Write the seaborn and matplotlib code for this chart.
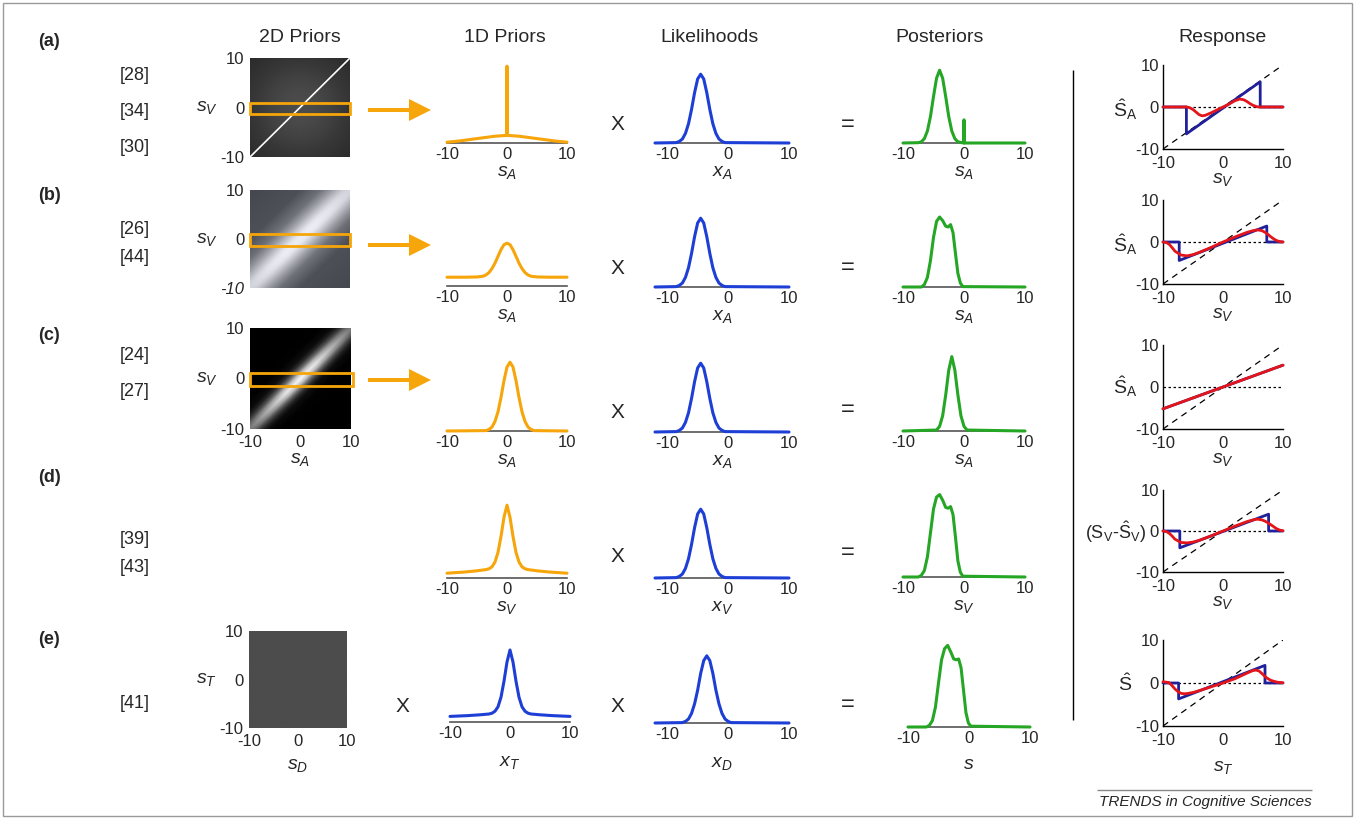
import numpy as np
import matplotlib
matplotlib.use('Agg')
import matplotlib.pyplot as plt
from matplotlib.patches import Rectangle, FancyArrow
from matplotlib.colors import LinearSegmentedColormap
import seaborn as sns

# ---------------- values ----------------
col_titles = ['2D Priors', '1D Priors', 'Likelihoods', 'Posteriors', 'Response']
row_tags = ['(a)', '(b)', '(c)', '(d)', '(e)']
citations = [['[28]', '[34]', '[30]'], ['[26]', '[44]'], ['[24]', '[27]'],
             ['[39]', '[43]'], ['[41]']]

# 1D priors (heights relative to the panel baseline)
prior_a_x = [-10, -8, -6, -4, -2, -1, -0.05, 0, 0.05, 1, 2, 4, 6, 8, 10]
prior_a_y = [0.01, 0.025, 0.045, 0.065, 0.085, 0.09, 0.095, 0.96, 0.095, 0.09, 0.085, 0.065, 0.045, 0.025, 0.01]
prior_b_x = [-10, -7, -5, -4, -3.5, -3, -2.5, -2, -1.5, -1, -0.5, 0, 0.5, 1, 1.5, 2, 2.5, 3, 3.5, 4, 5, 7, 10]
prior_b_y = [0.11, 0.11, 0.113, 0.122, 0.138, 0.168, 0.218, 0.286, 0.371, 0.454, 0.517, 0.535, 0.517, 0.454,
             0.371, 0.286, 0.218, 0.168, 0.138, 0.122, 0.113, 0.11, 0.11]
prior_c_x = [-10, -3.5, -3, -2.5, -2, -1.5, -1, -0.5, 0, 0.5, 1, 1.5, 2, 2.5, 3, 3.5, 4, 4.5, 10]
prior_c_y = [0, 0.005, 0.02, 0.05, 0.12, 0.24, 0.42, 0.63, 0.8, 0.86, 0.8, 0.63, 0.42, 0.24, 0.12, 0.05, 0.02, 0.005, 0]
prior_d_x = [-10, -7, -5, -3.5, -3, -2.5, -2, -1.5, -1, -0.5, 0, 0.5, 1, 1.5, 2, 2.5, 3, 3.5, 5, 7, 10]
prior_d_y = [0.06, 0.075, 0.09, 0.105, 0.115, 0.14, 0.2, 0.32, 0.52, 0.76, 0.91, 0.76, 0.52, 0.32, 0.2, 0.14,
             0.115, 0.105, 0.09, 0.075, 0.06]
prior_e_x = prior_d_x
prior_e_y = [0.07, 0.08, 0.09, 0.1, 0.11, 0.135, 0.19, 0.31, 0.51, 0.75, 0.9, 0.75, 0.51, 0.31, 0.19, 0.135,
             0.11, 0.1, 0.09, 0.08, 0.07]

# likelihoods
like_x = [-12, -8.5, -8, -7.5, -7, -6.5, -6, -5.5, -5, -4.5, -4, -3.5, -3, -2.5, -2, -1.5, -1, -0.5, 10]
like_y = [0, 0.005, 0.02, 0.05, 0.12, 0.24, 0.42, 0.63, 0.8, 0.86, 0.8, 0.63, 0.42, 0.24, 0.12, 0.05, 0.02, 0.005, 0]
like_e_x = [-12, -7.5, -7, -6.5, -6, -5.5, -5, -4.5, -4, -3.5, -3, -2.5, -2, -1.5, -1, -0.5, 0, 0.5, 10]
like_e_y = [0, 0.005, 0.02, 0.05, 0.12, 0.24, 0.41, 0.62, 0.78, 0.84, 0.78, 0.62, 0.41, 0.24, 0.12, 0.05, 0.02, 0.005, 0]

# posteriors
post_a_x = [-10, -7.5, -7, -6.5, -6, -5.5, -5, -4.5, -4, -3.5, -3, -2.5, -2, -1.5, -1, -0.05, 0, 0.05, 10]
post_a_y = [0, 0.004, 0.015, 0.054, 0.15, 0.33, 0.58, 0.81, 0.91, 0.81, 0.58, 0.33, 0.15, 0.054, 0.015, 0, 0.29, 0, 0]
post_b_x = [-10, -7, -6.5, -6, -5.5, -5, -4.5, -4, -3.5, -3, -2.6, -2.2, -1.8, -1.4, -1, -0.6, -0.2, 10]
post_b_y = [0, 0, 0.03, 0.12, 0.33, 0.62, 0.82, 0.875, 0.83, 0.76, 0.75, 0.78, 0.68, 0.42, 0.17, 0.05, 0.005, 0]
post_c_x = [-10, -4.5, -4, -3.5, -3, -2.5, -2, -1.5, -1, -0.5, 0, 0.5, 10]
post_c_y = [0, 0.012, 0.058, 0.19, 0.45, 0.76, 0.93, 0.76, 0.45, 0.19, 0.058, 0.012, 0]
post_d_x = [-10, -7.5, -7, -6.5, -6, -5.5, -5, -4.5, -4, -3.5, -3, -2.6, -2.2, -1.8, -1.4, -1, -0.6, -0.2, 10]
post_d_y = [0, 0, 0.02, 0.08, 0.25, 0.55, 0.85, 1.0, 1.03, 0.96, 0.87, 0.86, 0.88, 0.78, 0.5, 0.2, 0.06, 0.01, 0]
post_e_x = [-10, -7, -6.5, -6, -5.5, -5, -4.5, -4, -3.5, -3, -2.5, -2.1, -1.7, -1.3, -0.9, -0.5, -0.1, 0.3, 10]
post_e_y = [0, 0, 0.02, 0.08, 0.25, 0.55, 0.84, 0.98, 1.02, 0.94, 0.85, 0.84, 0.85, 0.74, 0.46, 0.18, 0.05, 0.01, 0]

# responses
resp_a_blue_x = [-10, -6.1, -6.1, 6.2, 6.2, 10]
resp_a_blue_y = [0, 0, -6.4, 6.0, 0, 0]
resp_a_red_x = [-10, -6, -5.5, -5, -4.5, -4, -3.5, -3, -2, -1, 0, 1, 2, 2.8, 3.5, 4, 4.5, 5, 5.7, 6, 10]
resp_a_red_y = [0, 0, -0.2, -0.6, -1.2, -1.8, -2.1, -2.0, -1.4, -0.7, 0, 0.7, 1.5, 1.9, 1.7, 1.3, 0.8, 0.4, 0.05, 0, 0]
resp_b_blue_x = [-10, -7.3, -7.3, 7.3, 7.3, 10]
resp_b_blue_y = [0, 0, -4.4, 3.8, 0, 0]
resp_b_red_x = [-10, -9.5, -9, -8.5, -8, -7, -6, -5, -4, -2, 0, 2, 4, 5, 5.7, 6.5, 7, 7.5, 8, 8.5, 9, 9.5, 10]
resp_b_red_y = [0, -0.1, -0.5, -1.3, -2.2, -3.1, -3.3, -3.0, -2.5, -1.3, 0, 1.2, 2.3, 2.7, 2.9, 2.7, 2.3, 1.8,
                1.2, 0.7, 0.3, 0.1, 0]
resp_c_x = [-10, 10]
resp_c_y = [-5.2, 5.2]
resp_d_blue_x = [-10, -7.2, -7.2, 7.6, 7.6, 10]
resp_d_blue_y = [0, 0, -4.1, 4.1, 0, 0]
resp_d_red_x = [-10, -9.5, -9, -8.5, -8, -7, -6, -5, -4, -2, 0, 2, 4, 5, 5.7, 6.5, 7, 7.5, 8, 8.5, 9, 9.5, 10]
resp_d_red_y = [0, -0.1, -0.5, -1.2, -2.0, -2.8, -2.9, -2.7, -2.3, -1.2, 0, 1.2, 2.3, 2.7, 2.9, 2.7, 2.4, 2.0,
                1.5, 1.0, 0.5, 0.2, 0.05]
resp_e_blue_x = [-10, -7.4, -7.4, 7.0, 7.0, 10]
resp_e_blue_y = [0, 0, -3.7, 4.1, 0, 0]
resp_e_red_x = [-10, -9, -8.5, -8, -7.5, -7, -6.5, -6, -5, -4, -2, 0, 2, 4, 5, 5.5, 6, 6.5, 7, 7.5, 8, 9, 10]
resp_e_red_y = [0.3, 0.1, -0.6, -1.4, -2.0, -2.4, -2.5, -2.45, -2.2, -1.8, -0.9, 0, 1.0, 2.3, 2.9, 3.0, 2.8,
                2.2, 1.5, 1.0, 0.6, 0.2, 0.05]

# 2D priors: brightness profiles across (s_V - s_A) and along the diagonal
band_d = [-20, -10, -6, -4, -3, -2, -1, 0, 1, 2, 3, 4, 6, 10, 20]
band_b = [0.0, 0.05, 0.25, 0.5, 0.65, 0.8, 0.93, 0.97, 0.93, 0.8, 0.65, 0.5, 0.25, 0.05, 0.0]
band_c = [0.0, 0.0, 0.01, 0.06, 0.18, 0.42, 0.78, 0.97, 0.78, 0.42, 0.18, 0.06, 0.01, 0.0, 0.0]
along_u = [-10, -6, -3, 0, 3, 6, 10]
along_b = [0.85, 0.95, 1.0, 1.0, 1.0, 0.95, 0.85]
along_c = [0.5, 0.75, 0.93, 1.0, 0.93, 0.75, 0.5]
glow_r = [0, 3, 6, 9, 12, 15]
glow_a = [0.3, 0.29, 0.26, 0.22, 0.19, 0.16]
prior2d_e_level = 0.3

# ---------------- style ----------------
sns.set_theme(style='white')
plt.rcParams['font.family'] = ['Liberation Sans', 'DejaVu Sans']
plt.rcParams['mathtext.fontset'] = 'custom'
plt.rcParams['mathtext.rm'] = 'Liberation Sans'
plt.rcParams['mathtext.it'] = 'Liberation Sans:italic'
plt.rcParams['mathtext.bf'] = 'Liberation Sans:bold'
plt.rcParams['axes.unicode_minus'] = False

ORANGE = '#f6a50a'
BLUE = '#1d3fd6'
GREEN = '#25a625'
NAVY = '#20209a'
RED = '#e3151a'
TICK_FS = 12

W, H = 1355, 819
fig = plt.figure(figsize=(W / 100, H / 100), dpi=100)
fig.patch.set_facecolor('white')


def px_axes(left, top, width, height):
    return fig.add_axes([left / W, 1 - (top + height) / H, width / W, height / H])


canvas = px_axes(0, 0, W, H)
canvas.set_xlim(0, W)
canvas.set_ylim(H, 0)
canvas.axis('off')
canvas.add_patch(Rectangle((3, 3), W - 6, H - 6, fill=False, ec='#9a9a9a', lw=1))


def draw_line(ax, xs, ys, color, lw=2.2):
    sns.lineplot(x=xs, y=ys, ax=ax, color=color, lw=lw, estimator=None, sort=False)
    ax.lines[-1].set_clip_on(False)
    ax.lines[-1].set_zorder(3)


def curve_panel(left, width, base, xlim, xs, ys, color, xlabel, labelpad=1, height=88):
    ax = px_axes(left, base - height, width, height)
    ax.patch.set_alpha(0)
    draw_line(ax, xs, ys, color)
    ax.set_xlim(xlim)
    ax.set_ylim(0, 1.1)
    for s in ['top', 'right', 'left']:
        ax.spines[s].set_visible(False)
    ax.spines['bottom'].set_color('#555555')
    ax.spines['bottom'].set_linewidth(1.2)
    ax.set_xticks([-10, 0, 10])
    ax.set_xticklabels(['-10', '0', '10'])
    ax.set_yticks([])
    ax.tick_params(axis='x', direction='in', length=2, color='#555555', labelsize=TICK_FS, pad=3)
    ax.set_xlabel(xlabel, fontsize=14, labelpad=labelpad)
    return ax


def response_panel(top, bottom, bx, by, rx, ry, xlabel, labelpad=0):
    ax = px_axes(1163, top, 120, bottom - top)
    ax.patch.set_alpha(0)
    ax.axline((0, 0), slope=1, color='black', lw=0.9, ls=(0, (5, 4)))
    ax.axhline(0, color='black', lw=0.9, ls=(0, (2, 2)))
    draw_line(ax, bx, by, NAVY, lw=2.0)
    draw_line(ax, rx, ry, RED, lw=2.0)
    ax.set_xlim(-10, 10)
    ax.set_ylim(-10, 10)
    for s in ['top', 'right']:
        ax.spines[s].set_visible(False)
    for s in ['left', 'bottom']:
        ax.spines[s].set_color('black')
        ax.spines[s].set_linewidth(1)
    ax.set_xticks([-10, 0, 10])
    ax.set_yticks([-10, 0, 10])
    ax.set_xticklabels(['-10', '0', '10'])
    ax.set_yticklabels(['-10', '0', '10'])
    ax.tick_params(direction='in', length=3, color='black', labelsize=TICK_FS)
    ax.tick_params(axis='x', pad=5)
    ax.tick_params(axis='y', pad=3)
    ax.set_xlabel(xlabel, fontsize=14, labelpad=labelpad)
    return ax


# ---------------- 2D prior images ----------------
grid = np.linspace(-10, 10, 201)
SA, SV = np.meshgrid(grid, grid)
diag_off = SV - SA
diag_pos = (SA + SV) / 2
img_a = np.interp(np.hypot(SA, SV), glow_r, glow_a)
img_b = np.interp(diag_off, band_d, band_b) * np.interp(diag_pos, along_u, along_b)
img_c = np.interp(diag_off, band_d, band_c) * np.interp(diag_pos, along_u, along_c)
img_e = np.full_like(SA, prior2d_e_level)

cmap_b = LinearSegmentedColormap.from_list('bgrey', ['#45484e', '#f2f2fa'])


def image_panel(left, top, width, height, img, cmap, ylabel, xlabel=None, italic_low=False):
    ax = px_axes(left, top, width, height)
    ax.imshow(img, extent=[-10, 10, -10, 10], origin='lower', cmap=cmap, vmin=0, vmax=1,
              aspect='auto', interpolation='bilinear')
    ax.set_xlim(-10, 10)
    ax.set_ylim(-10, 10)
    for s in ax.spines.values():
        s.set_visible(False)
    ax.set_yticks([-10, 0, 10])
    ax.set_yticklabels(['-10', '0', '10'])
    if italic_low:
        ax.get_yticklabels()[0].set_style('italic')
    if xlabel:
        ax.set_xticks([-10, 0, 10])
        ax.set_xticklabels(['-10', '0', '10'])
        ax.set_xlabel(xlabel, fontsize=14, labelpad=1)
    else:
        ax.set_xticks([])
    ax.tick_params(length=0, labelsize=TICK_FS, pad=4)
    ax.set_ylabel(ylabel, fontsize=14, rotation=0, labelpad=2, va='center', ha='right')
    return ax


ax_a = image_panel(250, 58, 100, 99, img_a, 'gray', r'$s_V$')
ax_a.axline((0, 0), slope=1, color='white', lw=1.2)
ax_b = image_panel(250, 190, 100, 98, img_b, cmap_b, r'$s_V$', italic_low=True)
ax_c = image_panel(250, 328, 101, 101, img_c, 'gray', r'$s_V$', xlabel=r'$s_A$')
ax_e = image_panel(249, 631, 98, 97, img_e, 'gray', r'$s_T$', xlabel=r'$s_D$')
ax_e.xaxis.labelpad = 6
for ax, w in [(ax_a, 20), (ax_b, 20), (ax_c, 20.3)]:
    ax.add_patch(Rectangle((-10, -1.4), w, 2.4, fill=False, ec=ORANGE, lw=2, clip_on=False, zorder=5))

for y in [110, 245, 380]:
    canvas.add_patch(FancyArrow(368, y, 63, 0, width=4, head_width=22, head_length=22,
                                length_includes_head=True, color=ORANGE, lw=0))

# ---------------- 1D curves ----------------
PRIOR = (447, 120, (-10, 10))
LIKE = (655, 134, (-12, 10))
POST = (903, 122, (-10, 10))

curve_panel(*PRIOR[:2], 143, PRIOR[2], prior_a_x, prior_a_y, ORANGE, r'$s_A$')
curve_panel(*LIKE[:2], 143, LIKE[2], like_x, like_y, BLUE, r'$x_A$')
curve_panel(*POST[:2], 143, POST[2], post_a_x, post_a_y, GREEN, r'$s_A$')

curve_panel(*PRIOR[:2], 286, PRIOR[2], prior_b_x, prior_b_y, ORANGE, r'$s_A$')
curve_panel(*LIKE[:2], 287, LIKE[2], like_x, like_y, BLUE, r'$x_A$')
curve_panel(*POST[:2], 287, POST[2], post_b_x, post_b_y, GREEN, r'$s_A$')

curve_panel(*PRIOR[:2], 431, PRIOR[2], prior_c_x, prior_c_y, ORANGE, r'$s_A$')
curve_panel(*LIKE[:2], 432, LIKE[2], like_x, like_y, BLUE, r'$x_A$')
curve_panel(*POST[:2], 431, POST[2], post_c_x, post_c_y, GREEN, r'$s_A$')

curve_panel(*PRIOR[:2], 578, PRIOR[2], prior_d_x, prior_d_y, ORANGE, r'$s_V$')
curve_panel(*LIKE[:2], 578, LIKE[2], like_x, like_y, BLUE, r'$x_V$')
curve_panel(*POST[:2], 577, POST[2], post_d_x, post_d_y, GREEN, r'$s_V$')

curve_panel(450, 120, 722, PRIOR[2], prior_e_x, prior_e_y, BLUE, r'$x_T$', labelpad=9)
curve_panel(*LIKE[:2], 723, LIKE[2], like_e_x, like_e_y, BLUE, r'$x_D$', labelpad=9)
curve_panel(908, 122, 727, POST[2], post_e_x, post_e_y, GREEN, r'$s$', labelpad=7)

# ---------------- responses ----------------
response_panel(65, 149, resp_a_blue_x, resp_a_blue_y, resp_a_red_x, resp_a_red_y, r'$s_V$')
response_panel(200, 284, resp_b_blue_x, resp_b_blue_y, resp_b_red_x, resp_b_red_y, r'$s_V$')
response_panel(345, 429, resp_c_x, resp_c_y, resp_c_x, resp_c_y, r'$s_V$')
response_panel(490, 572, resp_d_blue_x, resp_d_blue_y, resp_d_red_x, resp_d_red_y, r'$s_V$')
response_panel(640, 726, resp_e_blue_x, resp_e_blue_y, resp_e_red_x, resp_e_red_y, r'$s_T$', labelpad=8)

shat_a = r'$\hat{\mathrm{S}}_{\mathrm{A}}$'
for y, lab, x, fs in [(110, shat_a, 1125, 14), (245, shat_a, 1125, 14), (387, shat_a, 1125, 14),
                      (532, r'$(\mathrm{S}_{\mathrm{V}}$-$\hat{\mathrm{S}}_{\mathrm{V}})$', 1116, 13),
                      (684, r'$\hat{\mathrm{S}}$', 1125, 14)]:
    canvas.text(x, y, lab, fontsize=fs, ha='center', va='center')

# ---------------- text and decorations ----------------
for x, t in zip([300, 505, 710, 940, 1222], col_titles):
    canvas.text(x, 38, t, fontsize=14, ha='center', va='center')

for y, t in zip([42, 196, 336, 478, 640], row_tags):
    canvas.text(38, y, t, fontsize=13, fontweight='bold', ha='left', va='center')

cite_y = [[75, 111, 148], [230, 258], [356, 392], [540, 568], [704]]
for ys, refs in zip(cite_y, citations):
    for y, r in zip(ys, refs):
        canvas.text(135, y, r, fontsize=13, ha='center', va='center')

for y in [125, 268, 412, 557, 707]:
    canvas.text(617, y, 'X', fontsize=15, ha='center', va='center')
canvas.text(402, 707, 'X', fontsize=15, ha='center', va='center')
for y in [125, 268, 410, 553, 705]:
    canvas.text(848, y, '=', fontsize=17, ha='center', va='center')

canvas.vlines(1073, 70, 720, color='black', lw=1)
canvas.hlines(790, 1097, 1312, color='#888888', lw=1)
canvas.text(1205, 802, 'TRENDS in Cognitive Sciences', fontsize=11, style='italic',
            ha='center', va='center')

fig.savefig('out.png', dpi=100)
